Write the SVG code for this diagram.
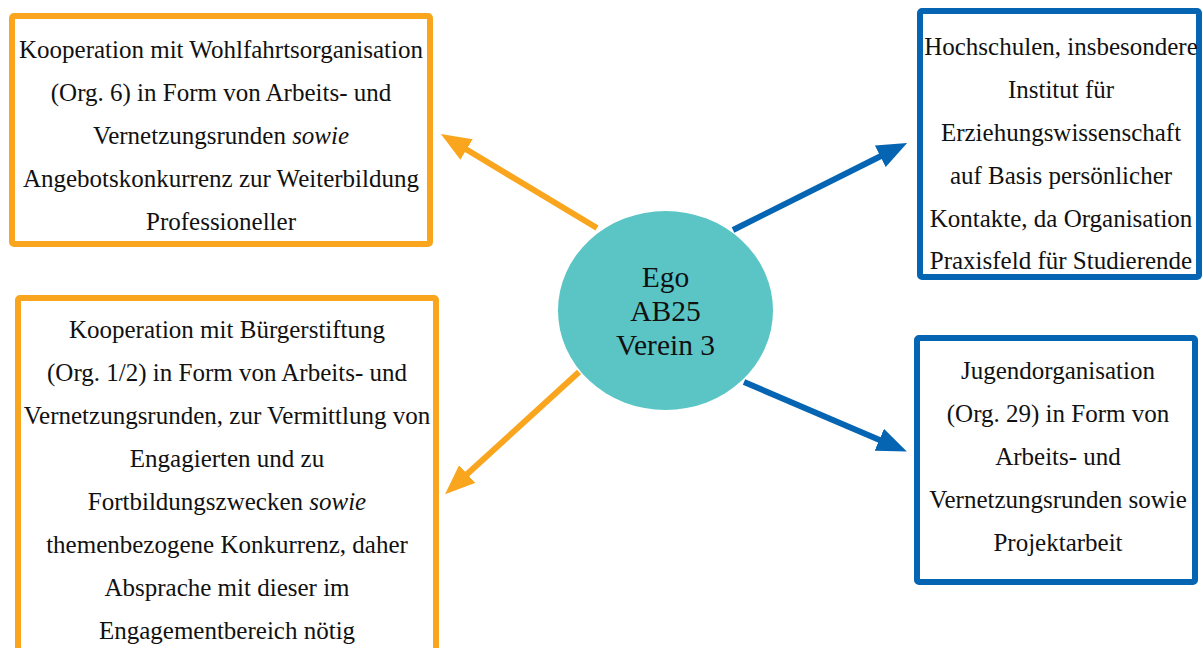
<svg xmlns="http://www.w3.org/2000/svg" width="1203" height="648" viewBox="0 0 1203 648">
  <style>
    .bg { fill: #ffffff; }
    .box { fill: #ffffff; stroke-width: 6; }
    .orange { stroke: #F9A51E; }
    .blue { stroke: #0565B3; }
    .txt { font-family: 'Liberation Serif', 'Times New Roman', serif; font-size: 25px; fill: #111111; text-anchor: middle; }
    .ego { font-family: 'Liberation Serif', 'Times New Roman', serif; font-size: 29.5px; fill: #111111; text-anchor: middle; }
    .link { fill: none; stroke-width: 6; }
  </style>
  <defs>
    <marker id="headOrange" viewBox="0 0 30 24" refX="3" refY="12" markerWidth="30" markerHeight="24" markerUnits="userSpaceOnUse" orient="auto">
      <path d="M0,0 L30,12 L0,24 z" fill="#F9A51E"/>
    </marker>
    <marker id="headBlue" viewBox="0 0 30 24" refX="3" refY="12" markerWidth="30" markerHeight="24" markerUnits="userSpaceOnUse" orient="auto">
      <path d="M0,0 L30,12 L0,24 z" fill="#0565B3"/>
    </marker>
  </defs>

  <rect class="bg" x="0" y="0" width="1203" height="648"/>

  <!-- connectors from the central node -->
  <g id="connectors">
    <line class="link orange" x1="597" y1="228" x2="464" y2="148" marker-end="url(#headOrange)"/>
    <line class="link orange" x1="579" y1="372" x2="465" y2="476" marker-end="url(#headOrange)"/>
    <line class="link blue" x1="733" y1="230" x2="883" y2="155" marker-end="url(#headBlue)"/>
    <line class="link blue" x1="744" y1="382" x2="882" y2="441" marker-end="url(#headBlue)"/>
  </g>

  <!-- central node -->
  <g id="ego">
    <ellipse cx="665.5" cy="310.5" rx="107.5" ry="99.5" fill="#5BC5C6"/>
    <text class="ego" x="665.5" y="287">Ego</text>
    <text class="ego" x="665.5" y="321">AB25</text>
    <text class="ego" x="665.5" y="355">Verein 3</text>
  </g>

  <!-- top left -->
  <g id="wohlfahrt">
    <rect class="box orange" x="12" y="16" width="418" height="228" rx="2"/>
    <text class="txt" x="221" y="58">Kooperation mit Wohlfahrtsorganisation</text>
    <text class="txt" x="221" y="101">(Org. 6) in Form von Arbeits- und</text>
    <text class="txt" x="221" y="144">Vernetzungsrunden <tspan font-style="italic">sowie</tspan></text>
    <text class="txt" x="221" y="187">Angebotskonkurrenz zur Weiterbildung</text>
    <text class="txt" x="221" y="230">Professioneller</text>
  </g>

  <!-- bottom left -->
  <g id="buergerstiftung">
    <rect class="box orange" x="18" y="298" width="418" height="370" rx="2"/>
    <text class="txt" x="227" y="338">Kooperation mit Bürgerstiftung</text>
    <text class="txt" x="227" y="381">(Org. 1/2) in Form von Arbeits- und</text>
    <text class="txt" x="227" y="424">Vernetzungsrunden, zur Vermittlung von</text>
    <text class="txt" x="227" y="467">Engagierten und zu</text>
    <text class="txt" x="227" y="510">Fortbildungszwecken <tspan font-style="italic">sowie</tspan></text>
    <text class="txt" x="227" y="553">themenbezogene Konkurrenz, daher</text>
    <text class="txt" x="227" y="596">Absprache mit dieser im</text>
    <text class="txt" x="227" y="639">Engagementbereich nötig</text>
  </g>

  <!-- top right -->
  <g id="hochschulen">
    <rect class="box blue" x="920" y="11" width="279" height="266" rx="2"/>
    <text class="txt" x="1061" y="55">Hochschulen, insbesondere</text>
    <text class="txt" x="1061" y="98">Institut für</text>
    <text class="txt" x="1061" y="141">Erziehungswissenschaft</text>
    <text class="txt" x="1061" y="184">auf Basis persönlicher</text>
    <text class="txt" x="1061" y="227">Kontakte, da Organisation</text>
    <text class="txt" x="1061" y="269">Praxisfeld für Studierende</text>
  </g>

  <!-- bottom right -->
  <g id="jugend">
    <rect class="box blue" x="917" y="338" width="278" height="244" rx="2"/>
    <text class="txt" x="1058" y="379">Jugendorganisation</text>
    <text class="txt" x="1058" y="422">(Org. 29) in Form von</text>
    <text class="txt" x="1058" y="465">Arbeits- und</text>
    <text class="txt" x="1058" y="508">Vernetzungsrunden sowie</text>
    <text class="txt" x="1058" y="551">Projektarbeit</text>
  </g>
</svg>
